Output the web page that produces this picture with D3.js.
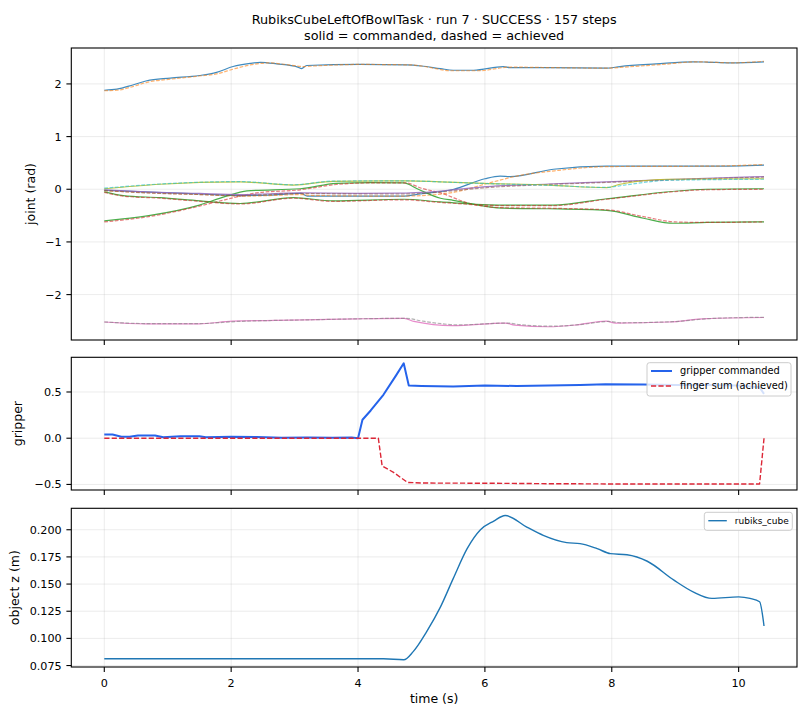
<!DOCTYPE html>
<html>
<head>
<meta charset="utf-8">
<script src="https://cdn.jsdelivr.net/npm/d3@7"></script>
<style>
  body { margin: 0; background: #fff; }
  svg { display: block; font-family: "DejaVu Sans", sans-serif; }
</style>
</head>
<body>
<div id="container"></div>
<script>
// ---- data: [time (s), value] ----
const titleLines = ["RubiksCubeLeftOfBowlTask \u00b7 run 7 \u00b7 SUCCESS \u00b7 157 steps",
                    "solid = commanded, dashed = achieved"];

const j0Cmd = [[0,-0.02],[0.8,-0.06],[1.5,-0.09],[2.2,-0.12],[2.6,-0.11],[3.1,-0.08],[3.2,-0.13],[4.7,-0.13],[4.98,-0.09],[5.51,0.0],[6.0,0.2],[6.24,0.25],[6.4,0.24],[7.08,0.38],[7.92,0.44],[9.6,0.44],[10.4,0.46]];
const j0Ach = [[0,-0.03],[0.8,-0.07],[1.5,-0.10],[2.2,-0.13],[2.6,-0.12],[3.1,-0.10],[3.3,-0.12],[4.7,-0.13],[5.0,-0.12],[5.5,-0.06],[6.1,0.13],[6.5,0.25],[7.1,0.35],[7.92,0.43],[9.6,0.44],[10.4,0.47]];
const j1Cmd = [[0,-0.60],[0.7,-0.50],[1.5,-0.30],[1.9,-0.14],[2.25,-0.03],[3.09,0.01],[3.66,0.11],[4.2,0.125],[4.72,0.12],[4.95,0.0],[5.3,-0.17],[5.5,-0.21],[6.29,-0.36],[7.0,-0.37],[7.92,-0.40],[8.5,-0.55],[8.97,-0.645],[9.5,-0.63],[10.4,-0.62]];
const j1Ach = [[0,-0.62],[0.7,-0.52],[1.5,-0.32],[1.9,-0.20],[2.4,-0.07],[3.09,-0.01],[3.66,0.09],[4.2,0.12],[4.75,0.12],[5.0,0.02],[5.3,-0.07],[5.76,-0.27],[6.29,-0.35],[7.0,-0.36],[7.92,-0.39],[8.5,-0.52],[9.0,-0.62],[9.5,-0.63],[10.4,-0.62]];
const j2Cmd = [[0,-0.01],[0.5,-0.04],[1.5,-0.08],[2.14,-0.10],[3.09,-0.07],[4.0,-0.08],[4.7,-0.075],[5.0,-0.06],[5.5,-0.01],[6.03,0.05],[7.0,0.10],[7.92,0.14],[9.0,0.19],[10.4,0.24]];
const j2Ach = [[0,-0.02],[0.5,-0.06],[1.5,-0.10],[2.14,-0.12],[3.09,-0.08],[4.0,-0.09],[4.7,-0.09],[5.0,-0.08],[5.5,-0.03],[6.03,0.03],[7.0,0.09],[7.92,0.13],[9.0,0.18],[10.4,0.23]];
const j3Cmd = [[0,-2.52],[0.66,-2.555],[1.49,-2.555],[2.02,-2.505],[2.7,-2.49],[3.15,-2.48],[3.98,-2.46],[4.73,-2.45],[4.88,-2.51],[5.49,-2.59],[6.32,-2.54],[6.47,-2.58],[7.0,-2.61],[7.45,-2.575],[7.91,-2.505],[8.06,-2.54],[8.89,-2.52],[9.49,-2.455],[10.4,-2.435]];
const j3Ach = [[0,-2.52],[0.7,-2.55],[1.5,-2.55],[2.1,-2.51],[2.7,-2.49],[3.2,-2.48],[4.0,-2.46],[4.75,-2.45],[5.0,-2.50],[5.6,-2.575],[6.35,-2.54],[6.55,-2.57],[7.05,-2.60],[7.5,-2.57],[7.95,-2.51],[8.15,-2.535],[8.95,-2.515],[9.55,-2.455],[10.4,-2.43]];
const j4Cmd = [[0,0.01],[0.88,0.095],[2.14,0.14],[2.98,0.08],[3.61,0.15],[4.77,0.16],[5.3,0.14],[5.98,0.113],[7.0,0.08],[7.92,0.03],[8.13,0.095],[8.87,0.19],[10.4,0.20]];
const j4Ach = [[0,0.02],[0.88,0.10],[2.14,0.145],[2.98,0.085],[3.61,0.155],[4.77,0.16],[5.3,0.14],[5.98,0.11],[7.0,0.075],[7.92,0.035],[8.2,0.08],[8.9,0.17],[10.4,0.19]];
const j5Cmd = [[0,1.88],[0.2,1.90],[0.45,1.98],[0.67,2.06],[1.04,2.11],[1.5,2.16],[1.77,2.22],[2.03,2.33],[2.3,2.39],[2.46,2.41],[2.72,2.38],[3.05,2.32],[3.11,2.29],[3.19,2.35],[4.03,2.37],[4.77,2.36],[5.0,2.34],[5.3,2.29],[5.5,2.26],[5.82,2.26],[6.29,2.33],[6.4,2.31],[7.0,2.31],[7.92,2.30],[8.13,2.33],[8.7,2.38],[9.29,2.42],[9.5,2.415],[9.87,2.40],[10.4,2.42]];
const j5Ach = [[0,1.87],[0.2,1.88],[0.45,1.95],[0.67,2.03],[1.04,2.09],[1.5,2.15],[1.77,2.19],[2.03,2.28],[2.3,2.36],[2.6,2.40],[2.85,2.37],[3.15,2.33],[3.3,2.34],[4.03,2.37],[4.85,2.36],[5.1,2.32],[5.45,2.25],[5.9,2.25],[6.4,2.32],[7.0,2.31],[7.92,2.30],[8.2,2.32],[8.8,2.37],[9.35,2.42],[9.9,2.40],[10.4,2.43]];
const j6Cmd = [[0,-0.05],[0.3,-0.12],[0.88,-0.16],[1.51,-0.22],[2.14,-0.27],[2.98,-0.16],[3.61,-0.22],[4.72,-0.19],[5.3,-0.24],[6.29,-0.30],[7.08,-0.30],[7.92,-0.18],[9.5,0.0],[10.4,0.01]];
const j6Ach = [[0,-0.06],[0.3,-0.13],[0.88,-0.17],[1.51,-0.23],[2.14,-0.28],[2.98,-0.17],[3.61,-0.23],[4.72,-0.20],[5.3,-0.25],[6.29,-0.31],[7.08,-0.31],[7.92,-0.19],[9.5,-0.01],[10.4,0.0]];

const gripCmd = [[0,0.04],[0.13,0.04],[0.27,0.015],[0.4,0.015],[0.53,0.03],[0.8,0.03],[0.93,0.01],[1.2,0.02],[1.5,0.02],[1.6,0.01],[2.0,0.015],[2.4,0.012],[2.8,0.005],[3.2,0.008],[3.6,0.005],[3.9,0.008],[4.0,0.0],[4.07,0.2],[4.2,0.3],[4.4,0.47],[4.6,0.68],[4.72,0.81],[4.8,0.57],[5.0,0.565],[5.5,0.56],[6.0,0.57],[6.5,0.565],[7.0,0.57],[7.5,0.575],[7.9,0.585],[8.5,0.58],[9.0,0.575],[9.5,0.575],[10.0,0.57],[10.33,0.55],[10.4,0.48]];
const fingerSum = [[0,0.0],[4.32,0.0],[4.38,-0.30],[4.56,-0.37],[4.78,-0.478],[5.0,-0.485],[6.0,-0.487],[7.0,-0.492],[8.0,-0.495],[9.0,-0.495],[10.33,-0.495],[10.4,0.0]];

const cubeZ = [[0,0.0812],[4.4,0.0812],[4.72,0.0803],[4.87,0.0878],[5.08,0.106],[5.3,0.129],[5.5,0.155],[5.72,0.1826],[5.93,0.200],[6.14,0.208],[6.32,0.2131],[6.66,0.2024],[6.92,0.1948],[7.29,0.1881],[7.5,0.1872],[7.77,0.1826],[7.98,0.178],[8.24,0.177],[8.56,0.171],[8.98,0.1536],[9.29,0.1426],[9.58,0.1368],[10.0,0.1382],[10.18,0.1368],[10.33,0.1337],[10.4,0.1114]];

const xTicks = [0, 2, 4, 6, 8, 10];
const jointTicks = [-2, -1, 0, 1, 2];
const gripTicks = [-0.5, 0.0, 0.5];
const zTicks = [0.075, 0.100, 0.125, 0.150, 0.175, 0.200];

const tab10 = ["#1f77b4","#ff7f0e","#2ca02c","#d62728","#9467bd","#8c564b","#e377c2","#7f7f7f","#bcbd22","#17becf"];

// ---- layout ----
const W = 810, H = 720;
const left = 71.3, right = 797;
const svg = d3.select("#container").append("svg").attr("width", W).attr("height", H);

function padded(ext) {
  const r = ext[1] - ext[0];
  return [ext[0] - 0.05 * r, ext[1] + 0.05 * r];
}
const minus = s => s.replace("-", "\u2212");

const allT = [].concat(j0Cmd, gripCmd, cubeZ).map(d => d[0]);
const x = d3.scaleLinear().domain(padded(d3.extent(allT))).range([left, right]);

function panel(top, bottom, series, ticks, fmt, label, labelX, showX, id) {
  const vals = series.flatMap(s => s.data.map(d => d[1]));
  const y = d3.scaleLinear().domain(padded(d3.extent(vals))).range([bottom, top]);
  const g = svg.append("g");
  svg.append("clipPath").attr("id", id).append("rect")
    .attr("x", left).attr("y", top).attr("width", right - left).attr("height", bottom - top);

  // grid
  g.selectAll(".gx").data(xTicks).enter().append("line")
    .attr("x1", d => x(d)).attr("x2", d => x(d)).attr("y1", top).attr("y2", bottom)
    .attr("stroke", "#b0b0b0").attr("stroke-opacity", 0.3).attr("stroke-width", 0.8);
  g.selectAll(".gy").data(ticks).enter().append("line")
    .attr("x1", left).attr("x2", right).attr("y1", d => y(d)).attr("y2", d => y(d))
    .attr("stroke", "#b0b0b0").attr("stroke-opacity", 0.3).attr("stroke-width", 0.8);

  // lines
  const lg = g.append("g").attr("clip-path", `url(#${id})`);
  series.forEach(s => {
    const line = d3.line().x(d => x(d[0])).y(d => y(d[1]))
      .curve(s.smooth ? d3.curveMonotoneX : d3.curveLinear);
    lg.append("path").attr("d", line(s.data)).attr("fill", "none")
      .attr("stroke", s.color).attr("stroke-width", s.width)
      .attr("stroke-opacity", s.alpha)
      .attr("stroke-dasharray", s.dash || null)
      .attr("stroke-linejoin", "round");
  });

  // spines
  g.append("rect").attr("x", left).attr("y", top).attr("width", right - left).attr("height", bottom - top)
    .attr("fill", "none").attr("stroke", "#000").attr("stroke-width", 1.1);

  // y ticks
  g.selectAll(".ty").data(ticks).enter().append("line")
    .attr("x1", left - 4.9).attr("x2", left).attr("y1", d => y(d)).attr("y2", d => y(d))
    .attr("stroke", "#000").attr("stroke-width", 1.1);
  g.selectAll(".ly").data(ticks).enter().append("text")
    .attr("x", left - 9.6).attr("y", d => y(d)).attr("dy", "0.36em")
    .attr("text-anchor", "end").attr("font-size", 11.2).attr("fill", "#000")
    .text(d => minus(fmt(d)));

  // x ticks
  g.selectAll(".tx").data(xTicks).enter().append("line")
    .attr("x1", d => x(d)).attr("x2", d => x(d)).attr("y1", bottom).attr("y2", bottom + 4.9)
    .attr("stroke", "#000").attr("stroke-width", 1.1);
  if (showX) {
    g.selectAll(".lx").data(xTicks).enter().append("text")
      .attr("x", d => x(d)).attr("y", bottom + 19.5)
      .attr("text-anchor", "middle").attr("font-size", 11.2).attr("fill", "#000")
      .text(d => d);
  }

  g.append("text")
    .attr("transform", `translate(${labelX},${(top + bottom) / 2}) rotate(-90)`)
    .attr("text-anchor", "middle").attr("font-size", 12.5).attr("fill", "#000")
    .text(label);
  return y;
}

// title
svg.selectAll(".title").data(titleLines).enter().append("text")
  .attr("x", (left + right) / 2).attr("y", (d, i) => 24 + i * 15.5)
  .attr("text-anchor", "middle").attr("font-size", 12.8).attr("fill", "#000")
  .text(d => d);

// joints: colours follow the default cycle, solid then dashed per joint
const joints = [[j0Cmd, j0Ach], [j1Cmd, j1Ach], [j2Cmd, j2Ach], [j3Cmd, j3Ach], [j4Cmd, j4Ach], [j5Cmd, j5Ach], [j6Cmd, j6Ach]];
const jointSeries = [];
joints.forEach((p, i) => {
  jointSeries.push({data: p[0], color: tab10[(2 * i) % 10], width: 1.2, alpha: 0.85, smooth: true});
  jointSeries.push({data: p[1], color: tab10[(2 * i + 1) % 10], width: 1.2, alpha: 0.6, dash: "3.7,1.6", smooth: true});
});
panel(48, 340, jointSeries, jointTicks, d3.format("d"), "joint (rad)", 35, false, "c1");

// gripper
const gCmdColor = "#2563eb", gAchColor = "#dc2636";
panel(357.3, 490, [
  {data: gripCmd, color: gCmdColor, width: 2.0, alpha: 1},
  {data: fingerSum, color: gAchColor, width: 1.4, alpha: 1, dash: "5.2,2.2"}
], gripTicks, d3.format(".1f"), "gripper", 22, false, "c2");

// object z
panel(508.3, 667, [
  {data: cubeZ, color: tab10[0], width: 1.4, alpha: 1, smooth: true}
], zTicks, d3.format(".3f"), "object z (m)", 18.5, true, "c3");

svg.append("text").attr("x", (left + right) / 2).attr("y", 703)
  .attr("text-anchor", "middle").attr("font-size", 12.5).attr("fill", "#000")
  .text("time (s)");

// legends
function legend(x0, y0, w, h, items, fs, sampleLen) {
  const lg = svg.append("g");
  lg.append("rect").attr("x", x0).attr("y", y0).attr("width", w).attr("height", h)
    .attr("rx", 2.5).attr("fill", "#fff").attr("fill-opacity", 0.8)
    .attr("stroke", "#cccccc").attr("stroke-width", 1);
  items.forEach((it, i) => {
    const cy = y0 + it.dy;
    lg.append("line").attr("x1", x0 + 4).attr("x2", x0 + 4 + sampleLen).attr("y1", cy).attr("y2", cy)
      .attr("stroke", it.color).attr("stroke-width", it.width).attr("stroke-dasharray", it.dash || null);
    lg.append("text").attr("x", x0 + 4 + sampleLen + 8).attr("y", cy).attr("dy", "0.35em")
      .attr("font-size", fs).attr("fill", "#000").text(it.label);
  });
}
legend(647, 362.7, 144, 33.3, [
  {label: "gripper commanded", color: gCmdColor, width: 2.0, dy: 8.3},
  {label: "finger sum (achieved)", color: gAchColor, width: 1.4, dash: "5.2,2.2", dy: 23.3}
], 9.8, 21);
legend(704.3, 512.3, 88, 18, [
  {label: "rubiks_cube", color: tab10[0], width: 1.4, dy: 8.4}
], 9.0, 18.5);
</script>
</body>
</html>
